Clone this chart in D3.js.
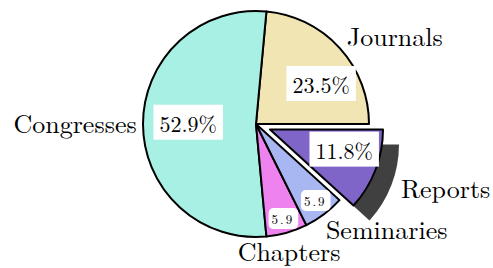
<!DOCTYPE html>
<html>
<head>
<meta charset="utf-8">
<script src="https://cdn.jsdelivr.net/npm/d3@7"></script>
<style>
  body { margin: 0; background: #fff; }
</style>
</head>
<body>
<div id="chart"></div>
<script>
// publication types, counts
let categories = ["Journals", "Congresses", "Chapters", "Seminaries", "Reports"];
let counts = [8, 18, 2, 2, 4];
let colors = ["#f0e5b3", "#a8f0e4", "#ee82ee", "#a8b6f2", "#8065c9"];
let exploded = [false, false, false, false, true];

let width = 493, height = 268;
let cx = 256, cy = 124, radius = 113;
let explodeDist = 15;
let shadowOff = [16, 15];
let font = "Latin Modern Roman";

// label placement tweaks (radius factor, nudge, anchor)
let pctR = [0.6, 0.6, 0.87, 0.87, 0.6];
let pctNudge = [[15, 7], [0, 0], [0, 1], [0, -1], [11, -3]];
let labelAnchor = ["start", "end", "middle", "start", "start"];
let labelDy = [6, 9, 17, 16, 9];
let labelDx = [-1, 5, -1, -5, -1];

let svg = d3.select("#chart")
    .append("svg")
    .attr("width", width)
    .attr("height", height);

let g = svg.append("g")
    .attr("transform", `translate(${cx},${cy})`);

let total = d3.sum(counts);

// start at 3 o'clock, go counter-clockwise like matplotlib
let pie = d3.pie()
    .sort(null)
    .startAngle(Math.PI / 2)
    .endAngle(Math.PI / 2 - 2 * Math.PI);

let arcs = pie(counts);
let arc = d3.arc().innerRadius(0).outerRadius(radius);

function offset(d, i) {
  if (!exploded[i]) return [0, 0];
  let a = (d.startAngle + d.endAngle) / 2;
  return [Math.sin(a) * explodeDist, -Math.cos(a) * explodeDist];
}

// shadow behind the exploded slice
g.selectAll("path.shadow")
    .data(arcs.filter((d, i) => exploded[i]))
    .enter()
    .append("path")
    .attr("class", "shadow")
    .attr("d", arc)
    .attr("fill", "#404040")
    .attr("transform", function(d) {
      let o = offset(d, d.index);
      return `translate(${o[0] + shadowOff[0]},${o[1] + shadowOff[1]})`;
    });

g.selectAll("path.slice")
    .data(arcs)
    .enter()
    .append("path")
    .attr("class", "slice")
    .attr("d", arc)
    .attr("fill", (d, i) => colors[i])
    .attr("stroke", "#000")
    .attr("stroke-width", 2)
    .attr("stroke-linejoin", "round")
    .attr("transform", function(d, i) {
      let o = offset(d, i);
      return `translate(${o[0]},${o[1]})`;
    });

// category labels
g.selectAll("text.cat")
    .data(arcs)
    .enter()
    .append("text")
    .attr("class", "cat")
    .attr("font-family", font)
    .attr("font-size", 26)
    .attr("text-anchor", (d, i) => labelAnchor[i])
    .attr("x", function(d, i) {
      let a = (d.startAngle + d.endAngle) / 2;
      let o = offset(d, i);
      let s = exploded[i] ? shadowOff[0] : 0;
      return Math.sin(a) * radius * 1.1 + o[0] + s + labelDx[i];
    })
    .attr("y", function(d, i) {
      let a = (d.startAngle + d.endAngle) / 2;
      let o = offset(d, i);
      let s = exploded[i] ? shadowOff[1] : 0;
      return -Math.cos(a) * radius * 1.1 + o[1] + s + labelDy[i];
    })
    .text((d, i) => categories[i]);

// percentage labels with white boxes
arcs.forEach(function(d, i) {
  let a = (d.startAngle + d.endAngle) / 2;
  let o = offset(d, i);
  let px = Math.sin(a) * radius * pctR[i] + o[0] + pctNudge[i][0];
  let py = -Math.cos(a) * radius * pctR[i] + o[1] + pctNudge[i][1];
  let pct = counts[i] / total * 100;
  let small = pct < 10;
  let label = small ? pct.toFixed(1) : pct.toFixed(1) + "%";

  let lg = g.append("g").attr("transform", `translate(${px},${py})`);
  let t = lg.append("text")
      .attr("font-family", font)
      .attr("text-anchor", "middle")
      .attr("dy", "0.35em")
      .attr("font-size", small ? 13 : 22)
      .attr("letter-spacing", small ? 2 : 0)
      .text(label);
  let bb = t.node().getBBox();
  let padX = small ? 4 : 6, padY = small ? 1 : 2;
  lg.insert("rect", "text")
      .attr("x", bb.x - padX + (small ? 1 : 0))
      .attr("y", bb.y - padY)
      .attr("width", bb.width + 2 * padX - (small ? 1 : 0))
      .attr("height", bb.height + 2 * padY)
      .attr("rx", small ? 5 : 0)
      .attr("fill", "#fff");
});
</script>
</body>
</html>
